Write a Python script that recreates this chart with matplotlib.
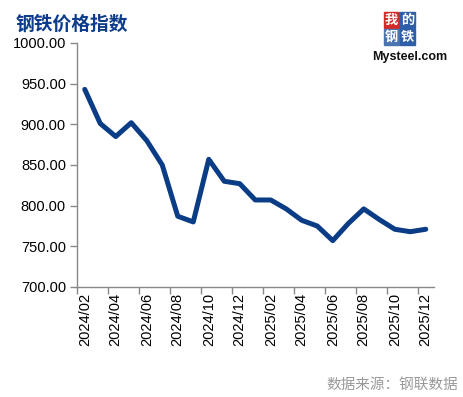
import matplotlib.pyplot as plt
from matplotlib.patches import Rectangle

months = ['2024/02', '2024/03', '2024/04', '2024/05', '2024/06', '2024/07',
          '2024/08', '2024/09', '2024/10', '2024/11', '2024/12', '2025/01',
          '2025/02', '2025/03', '2025/04', '2025/05', '2025/06', '2025/07',
          '2025/08', '2025/09', '2025/10', '2025/11', '2025/12']
index_values = [943, 901, 885, 902, 880, 850, 787, 780, 857, 830, 827, 807,
                807, 796, 782, 775, 757, 778, 796, 783, 771, 768, 771]
y_ticks = [700, 750, 800, 850, 900, 950, 1000]

title = '钢铁价格指数'
source = '数据来源：钢联数据'
logo_chars = ['我', '的', '钢', '铁']


def main():
    W, H = 463, 397
    fig = plt.figure(figsize=(W / 100, H / 100), dpi=100)
    ax = fig.add_axes([77 / W, 1 - 287 / H, (433.5 - 77) / W, 244 / H])

    xs = list(range(len(months)))
    ax.plot(xs, index_values, color='#0b3d86', linewidth=3.6,
            solid_joinstyle='round', solid_capstyle='round')

    ax.set_xlim(-0.5, len(months) - 0.5)
    ax.set_ylim(700, 1000)
    ax.set_yticks(y_ticks)
    ax.set_yticklabels(['%.2f' % v for v in y_ticks],
                       fontfamily='Liberation Sans', fontsize=10.5)

    # ticks sit on category boundaries, labels on every second category
    ax.set_xticks([i - 0.5 for i in xs[::2]])
    ax.set_xticklabels([])
    ax.set_xticks(xs[::2], minor=True)
    ax.set_xticklabels(months[::2], minor=True, rotation=90,
                       fontfamily='Liberation Sans', fontsize=10.5)
    ax.tick_params(axis='x', which='minor', length=0, pad=4)
    ax.tick_params(axis='both', which='major', length=5, color='#888888',
                   width=1, pad=3)

    for side in ['top', 'right']:
        ax.spines[side].set_visible(False)
    for side in ['left', 'bottom']:
        ax.spines[side].set_color('#888888')
        ax.spines[side].set_linewidth(1)

    fig.text(16 / W, 1 - 24.5 / H, title, color='#0d3c8c', fontsize=13.5,
             fontweight='bold', fontfamily='Noto Sans CJK SC', va='center')
    fig.text(458 / W, 1 - 385 / H, source, color='#999999', fontsize=10.5,
             fontfamily='Noto Sans CJK SC', ha='right', va='center')

    # logo
    colors = ['#d42a2a', '#2f5ea8', '#4a73b0', '#2f5ea8']
    spots = [(384, 12), (400, 12), (384, 29), (400, 29)]
    for ch, c, (px, py) in zip(logo_chars, colors, spots):
        fig.patches.append(Rectangle((px / W, 1 - (py + 16) / H), 15 / W, 16 / H,
                                     transform=fig.transFigure, color=c))
        fig.text((px + 7.5) / W, 1 - (py + 8) / H, ch, color='white',
                 fontsize=9.5, fontweight='bold',
                 fontfamily='Noto Sans CJK SC', ha='center', va='center')
    fig.text(372 / W, 1 - 57 / H, 'Mysteel.com', color='#111111', fontsize=9,
             fontweight='bold', fontfamily='Liberation Sans', va='center')

    fig.savefig('out.png', dpi=100)


if __name__ == '__main__':
    main()
